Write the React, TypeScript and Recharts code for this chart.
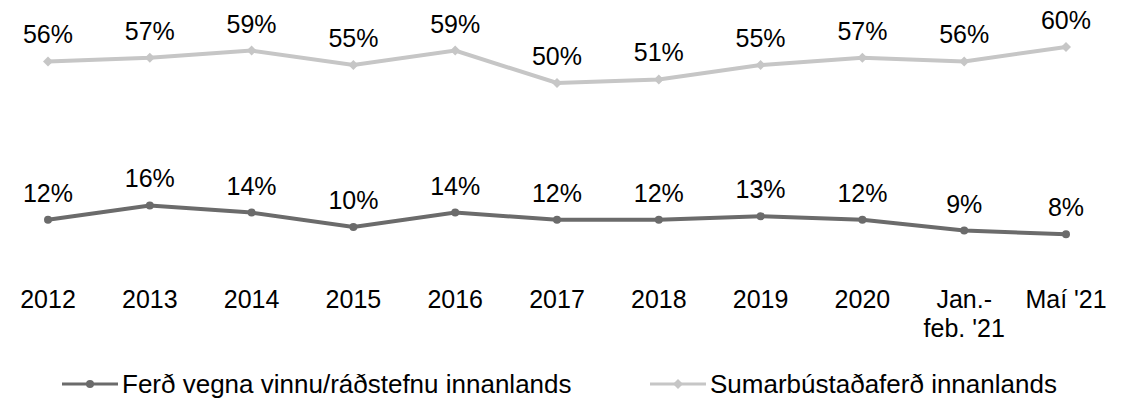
import React from 'react';
import {LabelList, Legend, Line, LineChart, XAxis, YAxis} from 'recharts';

const periods = ['2012', '2013', '2014', '2015', '2016', '2017', '2018', '2019', '2020', 'Jan.-\nfeb. \'21', 'Maí \'21'];
const vinna = [12, 16, 14, 10, 14, 12, 12, 13, 12, 9, 8];
const sumarbustadur = [56, 57, 59, 55, 59, 50, 51, 55, 57, 56, 60];

const vinnaName = 'Ferð vegna vinnu/ráðstefnu innanlands';
const sumarName = 'Sumarbústaðaferð innanlands';

const data = periods.map((p, i) => ({
    period: p,
    vinna: vinna[i],
    sumar: sumarbustadur[i],
}));

const FONT = 'Liberation Sans, Arial, sans-serif';
const DARK = '#6b6b6b';
const LIGHT = '#c6c6c6';

const MultiLineTick = ({x, y, payload}) => {
    const lines = String(payload.value).split('\n');
    return (
        <g transform={`translate(${x},${y})`}>
            {lines.map((line, i) => (
                <text key={i} x={0} y={i * 29} dy={18} textAnchor="middle" fill="#000" fontSize={25} fontFamily={FONT}>
                    {line}
                </text>
            ))}
        </g>
    );
};

const Diamond = ({cx, cy, fill}) => (
    <path d={`M${cx},${cy - 5}L${cx + 5},${cy}L${cx},${cy + 5}L${cx - 5},${cy}Z`} fill={fill}/>
);

const LegendContent = () => {
    const items = [
        {name: vinnaName, color: DARK, x: 62, diamond: false},
        {name: sumarName, color: LIGHT, x: 650, diamond: true},
    ];
    return (
        <svg width={1138} height={46} style={{display: 'block'}}>
            {items.map((it) => (
                <g key={it.name}>
                    <line x1={it.x} x2={it.x + 56} y1={30} y2={30} stroke={it.color} strokeWidth={3}/>
                    {it.diamond
                        ? <Diamond cx={it.x + 28} cy={30} fill={it.color}/>
                        : <circle cx={it.x + 28} cy={30} r={4} fill={it.color}/>}
                    <text x={it.x + 60} y={30} dy={9} fontSize={26} fontFamily={FONT} fill="#000">{it.name}</text>
                </g>
            ))}
        </svg>
    );
};

const pct = (v) => `${v}%`;

export default function App() {
    return (
        <div style={{position: 'absolute', left: 0, top: 0}}>
            <LineChart width={1138} height={400} data={data} margin={{top: 11, right: 0, bottom: 0, left: 0}}>
                <XAxis
                    dataKey="period"
                    scale="point"
                    padding={{left: 48, right: 72}}
                    axisLine={false}
                    tickLine={false}
                    interval={0}
                    tick={MultiLineTick}
                    tickMargin={21}
                    height={91}
                />
                <YAxis hide domain={[0, 70]}/>
                <Legend verticalAlign="bottom" height={46} content={LegendContent}/>
                <Line
                    dataKey="sumar"
                    name={sumarName}
                    stroke={LIGHT}
                    strokeWidth={4}
                    dot={(p) => <Diamond key={p.index} cx={p.cx} cy={p.cy} fill={LIGHT}/>}
                    isAnimationActive={false}
                >
                    <LabelList dataKey="sumar" position="top" offset={18} formatter={pct} fill="#000" fontSize={25} fontFamily={FONT}/>
                </Line>
                <Line
                    dataKey="vinna"
                    name={vinnaName}
                    stroke={DARK}
                    strokeWidth={4}
                    dot={{r: 4, fill: DARK, stroke: 'none'}}
                    isAnimationActive={false}
                >
                    <LabelList dataKey="vinna" position="top" offset={18} formatter={pct} fill="#000" fontSize={25} fontFamily={FONT}/>
                </Line>
            </LineChart>
        </div>
    );
}
